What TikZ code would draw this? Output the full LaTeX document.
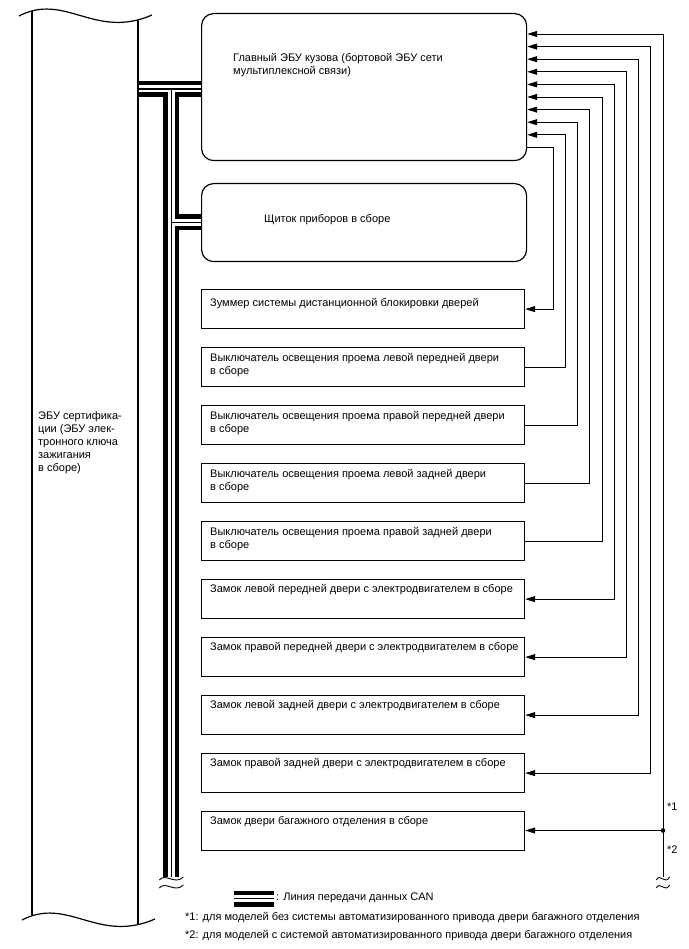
\documentclass[tikz,border=0pt]{standalone}
\usepackage{fontspec}
\setmainfont{Liberation Sans}
\usetikzlibrary{arrows.meta}
\begin{document}
\begin{tikzpicture}[x=1pt,y=-1pt,
  box/.style={draw=black, line width=1.2pt, minimum width=323pt, minimum height=39pt, inner sep=0pt, anchor=north west},
  rbox/.style={draw=black, line width=1.2pt, rounded corners=12pt, minimum width=325pt, inner sep=0pt, anchor=north west},
  conn/.style={line width=0.9pt},
  edge/.style={line width=1.2pt},
  lbl/.style={anchor=base west, inner sep=0pt, font=\fontsize{11}{13}\selectfont},
  >={Triangle[length=10pt,width=6pt]},
  tildemark/.pic={\draw[line width=0.9pt] (-12,1.5) .. controls (-6,-6) and (4,7) .. (12,-1.5);}
]
\useasboundingbox (0,0) rectangle (688,949);

% ---- CAN bus ----
\coordinate (busL) at (138,89);
\coordinate (busR) at (201,89);
\coordinate (busJ) at (171.3,89);
\coordinate (busB) at (171.3,877);
\coordinate (brJ) at (171.3,222.5);
\coordinate (brR) at (201,222.5);
\coordinate (legL) at (234,898.5);
\coordinate (legR) at (274,898.5);
\foreach \w/\c in {16/black,7/white,1.2/black}{
  \draw[line width=\w pt, \c] (busL) -- (busR) (busJ) -- (busB) (brJ) -- (brR) (legL) -- (legR);
}
\pic at (171.3,878.5) {tildemark};
\pic at (171.3,886.5) {tildemark};

% ---- left ECU (broken column) ----
\draw[edge] (19,16) .. controls (65,-8) and (95,40) .. (152,15);
\draw[edge] (22,920) .. controls (68,896) and (98,944) .. (155,919);
\draw[edge] (32,10.8) -- (32,914.8);
\draw[edge] (138,20.5) -- (138,924.5);
\node[lbl] (tLeft) at (38,419.5) {\parbox[t]{100pt}{\raggedright ЭБУ сертифика-\\ции (ЭБУ элек-\\тронного ключа\\зажигания\\в сборе)}};

% ---- boxes ----
\node[rbox, minimum height=147pt] (ecu) at (201,13) {};
\node[rbox, minimum height=78pt] (ic) at (201,183) {};
\node[box] (bz) at (201,289) {};
\node[box] (swLF) at (201,347) {};
\node[box] (swRF) at (201,405) {};
\node[box] (swLR) at (201,463) {};
\node[box] (swRR) at (201,521) {};
\node[box] (lkLF) at (201,579) {};
\node[box] (lkRF) at (201,637) {};
\node[box] (lkLR) at (201,695) {};
\node[box] (lkRR) at (201,753) {};
\node[box] (tr) at (201,811) {};

% ---- texts ----
\node[lbl] (tEcu) at (233,61.2) {\parbox[t]{300pt}{\raggedright Главный ЭБУ кузова (бортовой ЭБУ сети\\мультиплексной связи)}};
\node[lbl] (tIc) at (264,222.2) {Щиток приборов в сборе};
\node[lbl] (tBz) at ([xshift=9pt,yshift=-17.5pt]bz.north west) {Зуммер системы дистанционной блокировки дверей};
\node[lbl] (tSwLF) at ([xshift=9pt,yshift=-14.2pt]swLF.north west) {\parbox[t]{315pt}{\raggedright Выключатель освещения проема левой передней двери\\в сборе}};
\node[lbl] (tSwRF) at ([xshift=9pt,yshift=-14.2pt]swRF.north west) {\parbox[t]{315pt}{\raggedright Выключатель освещения проема правой передней двери\\в сборе}};
\node[lbl] (tSwLR) at ([xshift=9pt,yshift=-14.2pt]swLR.north west) {\parbox[t]{315pt}{\raggedright Выключатель освещения проема левой задней двери\\в сборе}};
\node[lbl] (tSwRR) at ([xshift=9pt,yshift=-14.2pt]swRR.north west) {\parbox[t]{315pt}{\raggedright Выключатель освещения проема правой задней двери\\в сборе}};
\node[lbl] (tLkLF) at ([xshift=9pt,yshift=-13.4pt]lkLF.north west) {Замок левой передней двери с электродвигателем в сборе};
\node[lbl] (tLkRF) at ([xshift=9pt,yshift=-13.4pt]lkRF.north west) {Замок правой передней двери с электродвигателем в сборе};
\node[lbl] (tLkLR) at ([xshift=9pt,yshift=-13.4pt]lkLR.north west) {Замок левой задней двери с электродвигателем в сборе};
\node[lbl] (tLkRR) at ([xshift=9pt,yshift=-13.4pt]lkRR.north west) {Замок правой задней двери с электродвигателем в сборе};
\node[lbl] (tTr) at ([xshift=9pt,yshift=-13.4pt]tr.north west) {Замок двери багажного отделения в сборе};

% ---- connectors ----
\coordinate (c0) at (663,34);
\coordinate (c1) at (650.8,46.6);
\coordinate (c2) at (638.6,59.2);
\coordinate (c3) at (626.4,71.8);
\coordinate (c4) at (614.2,84.4);
\coordinate (c5) at (602,97);
\coordinate (c6) at (589.8,109.6);
\coordinate (c7) at (577.6,122.2);
\coordinate (c8) at (565.4,134.8);
\coordinate (c9) at (553.2,147.4);
\coordinate (tBot) at (663,877);
\coordinate (tDot) at (663,830.5);

\draw[conn,->] (tBot) -- (c0) -- (c0 -| ecu.east);
\draw[conn,->] (tDot) -- (tDot -| tr.east);
\fill (tDot) circle (2.3);
\draw[conn,<->] (lkRR.east) -| (c1) -- (c1 -| ecu.east);
\draw[conn,<->] (lkLR.east) -| (c2) -- (c2 -| ecu.east);
\draw[conn,<->] (lkRF.east) -| (c3) -- (c3 -| ecu.east);
\draw[conn,<->] (lkLF.east) -| (c4) -- (c4 -| ecu.east);
\draw[conn,->] (swRR.east) -| (c5) -- (c5 -| ecu.east);
\draw[conn,->] (swLR.east) -| (c6) -- (c6 -| ecu.east);
\draw[conn,->] (swRF.east) -| (c7) -- (c7 -| ecu.east);
\draw[conn,->] (swLF.east) -| (c8) -- (c8 -| ecu.east);
\draw[conn,->] (c9 -| ecu.east) -- (c9) |- (bz.east);
\pic[xscale=0.55] at (663,878.5) {tildemark};
\pic[xscale=0.55] at (663,886.5) {tildemark};

\node[lbl] (n1) at (667,810.5) {*1};
\node[lbl] (n2) at (667,853.5) {*2};

% ---- legend ----
\node[lbl] (tLeg) at (276,900.8) {: Линия передачи данных CAN};
\node[lbl] (f1) at (185,920.8) {*1: для моделей без системы автоматизированного привода двери багажного отделения};
\node[lbl] (f2) at (185,938.8) {*2: для моделей с системой автоматизированного привода двери багажного отделения};
\end{tikzpicture}
\end{document}
